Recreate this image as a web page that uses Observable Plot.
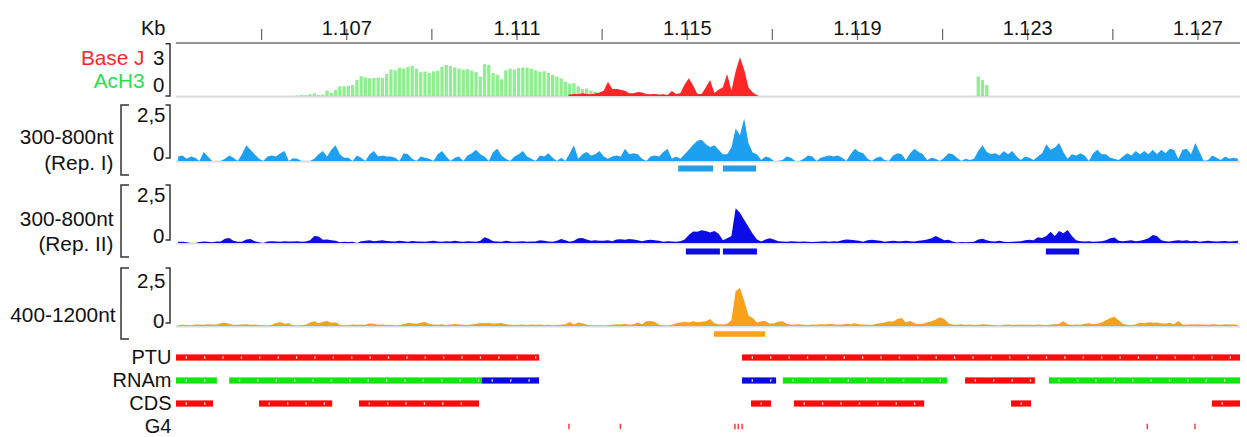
<!DOCTYPE html>
<html>
<head>
<meta charset="utf-8">
<script src="https://cdn.jsdelivr.net/npm/d3@7"></script>
<script src="https://cdn.jsdelivr.net/npm/@observablehq/plot@0.6"></script>
<style>
  html, body { margin: 0; padding: 0; background: #fff; }
  #tracks svg { display: block; }
</style>
</head>
<body>
<div id="tracks"></div>
<script>
// ---- Genomic window (kb) and ruler ----
const xDomain = [1103, 1128];
const axisTicksKb = [1105, 1107, 1109, 1111, 1113, 1115, 1117, 1119, 1121, 1123, 1125, 1127];
const labelledTicksKb = [1107, 1111, 1115, 1119, 1123, 1127];

// ---- Small-RNA coverage, one value per 0.1 kb bin from 1103 kb ----
const binKb = 0.1;
const coverageStartKb = 1103;
const repI = [
  0.2,0.25,0.1,0.2,0.15,0,0.4,0.2,0,0,
  0,0.1,0.25,0.15,0,0.3,0.7,0.5,0.3,0.1,
  0,0.2,0.25,0.2,0.35,0.45,0,0.12,0.1,0,
  0,0,0.1,0.3,0.45,0.2,0.5,0.7,0.3,0.15,
  0.15,0,0.25,0.15,0,0.3,0.45,0.2,0.25,0.2,
  0.2,0.15,0,0.35,0.3,0.1,0,0.2,0.15,0.1,
  0,0.3,0.45,0.2,0,0.15,0.2,0,0.25,0.35,
  0.5,0.3,0.2,0,0.4,0.55,0.25,0.1,0,0.2,
  0.3,0.45,0.2,0.1,0,0.25,0.2,0.35,0.15,0,
  0.15,0,0.35,0.7,0.1,0.3,0.4,0.25,0.3,0.45,
  0.2,0.1,0.2,0.25,0.2,0.55,0.3,0.35,0.3,0.1,
  0,0.2,0.25,0.2,0.4,0.55,0.1,0.2,0.1,0.3,
  0.5,0.72,0.9,0.95,0.75,0.62,0.7,0.5,0.3,0.3,
  0.6,1.45,1.15,1.9,0.8,0.38,0.3,0.05,0.2,0.15,
  0,0,0.05,0.2,0.15,0,0,0.1,0.25,0.2,
  0,0.15,0.2,0.25,0.2,0.25,0.15,0,0.3,0.55,
  0.4,0.35,0.1,0,0.15,0.2,0.05,0,0.25,0.35,
  0.3,0.05,0.35,0.55,0.4,0.3,0.05,0.15,0.1,0,
  0.15,0.35,0.3,0.15,0,0.1,0.05,0.1,0.45,0.7,
  0.4,0.3,0.35,0.25,0.45,0.3,0.45,0.2,0.05,0.2,
  0.15,0.05,0.2,0.35,0.75,0.5,0.6,0.8,0.4,0.1,
  0.3,0.25,0.35,0.25,0,0.35,0.5,0.3,0.3,0.15,
  0.1,0.05,0.2,0.35,0.25,0.45,0.3,0.45,0.3,0.5,
  0.3,0.5,0.35,0.55,0.5,0.1,0.5,0.55,0.3,0.8,
  0.4,0,0.05,0.25,0.15,0.05,0.2,0.1,0.15,0.1
];
const repII = [
  0.05,0.05,0.03,0,0,0.04,0.06,0.05,0.03,0.06,
  0.06,0.18,0.22,0.1,0.05,0.05,0.15,0.17,0.08,0.03,
  0,0.06,0.08,0.06,0.05,0.08,0.07,0.06,0.08,0.05,
  0.06,0.12,0.3,0.28,0.14,0.15,0.12,0.1,0.03,0.05,
  0.04,0.05,0,0.08,0.1,0.12,0.08,0.1,0.12,0.09,
  0.08,0.06,0.1,0.08,0.05,0.09,0.06,0.07,0.05,0.08,
  0.1,0.06,0.05,0.08,0.07,0.1,0.06,0.05,0.08,0.06,
  0.05,0.1,0.25,0.18,0.08,0.06,0.05,0.1,0.07,0.05,
  0.06,0.08,0.05,0.07,0.06,0.12,0.1,0.06,0.05,0.1,
  0.17,0.12,0.05,0.1,0.2,0.22,0.15,0.1,0.12,0.1,
  0.1,0.12,0.08,0.15,0.16,0.14,0.17,0.15,0.12,0.08,
  0.12,0.14,0.12,0.1,0.05,0.08,0.06,0.05,0.08,0.15,
  0.35,0.5,0.48,0.55,0.52,0.45,0.52,0.4,0.12,0.2,
  0.3,1.5,1.3,1.0,0.7,0.4,0.15,0.06,0.15,0.2,
  0.15,0.08,0.06,0.05,0.08,0.06,0.05,0.07,0.05,0.04,
  0.05,0.06,0.08,0.05,0.08,0.06,0.12,0.15,0.14,0.12,
  0.1,0.05,0.12,0.14,0.12,0.1,0.05,0.08,0.1,0.08,
  0.08,0.1,0.08,0.06,0.1,0.12,0.15,0.2,0.3,0.22,
  0.12,0.14,0.06,0.02,0.04,0.03,0.04,0.05,0.15,0.18,
  0.12,0.08,0.06,0.1,0.05,0.04,0.05,0.06,0.08,0.12,
  0.14,0.12,0.25,0.22,0.3,0.48,0.3,0.52,0.42,0.56,
  0.3,0.12,0.08,0.06,0.08,0.05,0.06,0.08,0.12,0.2,
  0.24,0.1,0.08,0.1,0.12,0.08,0.1,0.14,0.2,0.35,
  0.3,0.12,0.08,0.06,0.1,0.12,0.1,0.12,0.08,0.1,
  0.05,0.08,0.1,0.08,0.06,0.08,0.09,0.07,0.08,0.1
];
const nt400to1200 = [
  0.04,0.05,0.04,0.03,0.06,0.07,0.05,0.08,0.06,0.07,
  0.12,0.14,0.1,0.04,0.05,0.06,0.08,0.05,0.06,0.04,
  0.03,0.02,0.05,0.13,0.17,0.1,0.12,0.03,0.02,0.04,
  0.05,0.15,0.2,0.12,0.18,0.22,0.14,0.16,0.05,0.03,
  0.04,0.06,0.05,0.07,0.05,0.12,0.1,0.05,0.06,0.04,
  0.05,0.02,0.04,0.08,0.13,0.12,0.1,0.14,0.17,0.1,
  0.06,0.05,0.08,0.04,0.06,0.09,0.07,0.05,0.04,0.06,
  0.1,0.13,0.12,0.14,0.1,0.12,0.13,0.08,0.05,0.04,
  0.05,0.06,0.04,0.07,0.05,0.06,0.04,0.05,0.03,0.04,
  0.05,0.08,0.17,0.06,0.15,0.12,0.05,0.03,0.02,0.03,
  0.02,0.03,0.05,0.08,0.06,0.1,0.05,0.08,0.15,0.08,
  0.2,0.22,0.18,0.05,0.03,0.02,0.05,0.12,0.15,0.18,
  0.15,0.2,0.16,0.18,0.2,0.3,0.12,0.08,0.06,0.1,
  0.25,1.5,1.65,1.1,0.45,0.35,0.15,0.2,0.22,0.1,
  0.12,0.18,0.2,0.1,0.05,0.06,0.08,0.05,0.04,0.06,
  0.05,0.08,0.06,0.1,0.08,0.05,0.06,0.1,0.08,0.12,
  0.08,0.06,0.05,0.04,0.1,0.12,0.15,0.2,0.18,0.3,
  0.35,0.15,0.22,0.12,0.08,0.1,0.15,0.2,0.28,0.38,
  0.3,0.12,0.06,0.05,0.08,0.05,0.06,0.04,0.05,0.08,
  0.06,0.05,0.03,0.02,0.05,0.06,0.04,0.05,0.06,0.05,
  0.05,0.04,0.06,0.05,0.03,0.06,0.08,0.1,0.2,0.08,
  0.04,0.06,0.05,0.1,0.12,0.08,0.1,0.15,0.25,0.35,
  0.4,0.25,0.1,0.05,0.04,0.06,0.15,0.12,0.16,0.14,
  0.15,0.12,0.1,0.14,0.08,0.22,0.06,0.05,0.08,0.06,
  0.08,0.06,0.05,0.08,0.06,0.05,0.08,0.06,0.07,0.05
];

// ---- Chromatin marks (0.1 kb bins) ----
const acH3StartKb = 1105.8;
const acH3 = [
  0.03,0.05,0.04,0.1,0.15,0.06,0.08,0.3,0.18,0.35,
  0.55,0.55,0.58,0.62,0.9,1.12,1.05,1.0,1.02,1.05,
  1.02,1.25,1.5,1.45,1.6,1.55,1.65,1.7,1.55,1.35,
  1.38,1.3,1.4,1.42,1.65,1.75,1.7,1.62,1.55,1.5,
  1.52,1.42,1.35,1.1,1.8,1.75,1.3,1.2,0.95,1.45,
  1.55,1.5,1.58,1.62,1.6,1.55,1.45,1.38,1.4,1.3,
  1.2,1.1,1.0,0.8,0.7,0.72,0.55,0.4,0.42,0.3,
  0.25,0.08,0.05,0.1,0.06,0.02,0.04,0.06,0.08,0.1,
  0.07,0.03,0,0,0,0,0,0,0,0,
  0,0,0,0.04,0.08,0.12,0.15,0.1,0.05
];
const acH3IslandStartKb = 1121.8;
const acH3Island = [1.1, 0.9, 0.62];
const baseJStartKb = 1112.2;
const baseJ = [
  0.08,0.12,0.1,0.15,0.12,0.1,0.14,0.2,0.3,0.8,
  0.4,0.4,0.35,0.3,0.15,0.15,0.22,0.2,0.12,0.1,
  0.12,0.08,0.1,0.06,0.28,0.12,0.15,0.65,1.0,0.6,
  0.12,0.12,0.5,0.9,0.17,0.35,0.5,1.25,0.3,1.4,
  2.2,1.5,0.5,0.2,0.04
];

// ---- Called peaks (kb) ----
const peaksRepI = [[1114.80, 1115.62], [1115.85, 1116.63]];
const peaksRepII = [[1114.98, 1115.78], [1115.85, 1116.65], [1123.44, 1124.22]];
const peaks400to1200 = [[1115.64, 1116.84]];

// ---- Annotation features (kb) ----
const annotationTracks = ["PTU", "RNAm", "CDS", "G4"];
const ptu = [[1103.0, 1111.53, "red"], [1116.30, 1128.0, "red"]];
const rnam = [
  [1103.0, 1103.96, "green"], [1104.25, 1110.19, "green"], [1110.19, 1111.53, "blue"],
  [1116.30, 1117.10, "blue"], [1117.26, 1121.12, "green"], [1121.54, 1123.18, "red"],
  [1123.51, 1128.0, "green"]
];
const cds = [
  [1103.0, 1103.87, "red"], [1104.95, 1106.67, "red"], [1107.30, 1110.12, "red"],
  [1116.51, 1116.98, "red"], [1117.52, 1120.58, "red"], [1122.62, 1123.09, "red"],
  [1127.34, 1128.0, "red"]
];
const g4Sites = [1112.22, 1113.43, 1116.12, 1116.20, 1116.29, 1125.81, 1126.93];

// ---- Styling ----
const colors = {
  baseJ: "#ff1414", baseJLabel: "#ff2626", acH3: "#8def8d", acH3Label: "#2fdc4a",
  repI: "#1ea0f0", repII: "#0c0ce6", nt400: "#f9a11b", baseline: "#dcdcdc",
  axis: "#737373", bracket: "#333333",
  red: "#ff0a0a", green: "#0de80d", blue: "#0a0ae6", g4: "#ff3a3a"
};
const W = 1247, ML = 176, MR = 7, FS = 19.5, FS_TRACK = 20.8, FS_VALUE = 20.5;
const fontFamily = "'Liberation Sans', Arial, Helvetica, sans-serif";
const svgStyle = {background: "white", fontFamily, fontSize: FS + "px", color: "#111", overflow: "visible"};

const toRows = (startKb, values) => values.map((v, i) => ({pos: startKb + (i + 0.5) * binKb, v}));
const toBars = (startKb, values) => values
  .map((v, i) => ({x1: startKb + i * binKb, x2: startKb + (i + 1) * binKb, v}))
  .filter(d => d.v > 0);

// A "[" (arm > 0) or "]" (arm < 0) bracket, drawn in the plot's pixel space
function bracket(x, y1, y2, arm) {
  return () => d3.create("svg:path")
    .attr("d", `M${x + arm},${y1}H${x}V${y2}H${x + arm}`)
    .attr("fill", "none")
    .attr("stroke", colors.bracket)
    .attr("stroke-width", 1.5)
    .node();
}
const label = (text, opts) => Plot.text([text], {text: d => d, textAnchor: "end", fontSize: FS, fill: "#111", ...opts});

const container = document.getElementById("tracks");

// ---- Ruler ----
container.append(Plot.plot({
  width: W, height: 43, marginLeft: ML, marginRight: MR, marginTop: 29, marginBottom: 3,
  style: svgStyle,
  x: {domain: xDomain, axis: null},
  y: {domain: [0, 1], axis: null},
  marks: [
    Plot.ruleY([0], {stroke: colors.axis, strokeWidth: 1.6, dy: 2.5}),
    Plot.ruleX(axisTicksKb, {x: d => d, y1: 0, y2: 1, stroke: "#666", strokeWidth: 1.2}),
    Plot.text(labelledTicksKb, {x: d => d, text: d => (d / 1000).toFixed(3), frameAnchor: "top", dy: -9, fontSize: 20, fill: "#111"}),
    label("Kb", {frameAnchor: "top-left", dx: -11, dy: -9, fontSize: 20})
  ]
}));

// ---- Base J / AcH3 ----
const baseJRows = [{pos: baseJStartKb, v: 0}, ...toRows(baseJStartKb, baseJ),
  {pos: baseJStartKb + baseJ.length * binKb, v: 0}];
container.append(Plot.plot({
  width: W, height: 57, marginLeft: ML, marginRight: MR, marginTop: 0, marginBottom: 4,
  style: svgStyle,
  x: {domain: xDomain, axis: null},
  y: {domain: [0, 3], axis: null},
  marks: [
    Plot.ruleY([0], {stroke: colors.baseline, strokeWidth: 2}),
    Plot.rectY(toBars(acH3StartKb, acH3), {x1: "x1", x2: "x2", y: "v", fill: colors.acH3, insetLeft: 0.5, insetRight: 0.5}),
    Plot.rectY(toBars(acH3IslandStartKb, acH3Island), {x1: "x1", x2: "x2", y: "v", fill: colors.acH3, insetLeft: 0.5, insetRight: 0.5}),
    Plot.areaY(baseJRows, {x: "pos", y: "v", fill: colors.baseJ, fillOpacity: 0.92}),
    label("Base J", {frameAnchor: "top-left", dx: -32, dy: 7, fill: colors.baseJLabel, fontSize: FS_TRACK}),
    label("AcH3", {frameAnchor: "bottom-left", dx: -32, dy: -9, fill: colors.acH3Label, fontSize: FS_TRACK}),
    label("3", {frameAnchor: "top-left", dx: -12, dy: 7, fontSize: FS_VALUE}),
    label("0", {frameAnchor: "bottom-left", dx: -12, dy: -5, fontSize: FS_VALUE}),
    bracket(170, 0.75, 53, -4.5)
  ]
}));

// ---- Coverage tracks with their peaks ----
function coverageTrack({values, peaks, color, height, marginTop, marginBottom, lines, labelDx, peakDy, peakWidth, topDy, zeroDy, innerBottom}) {
  const frameBottom = height - marginBottom;
  const marks = [
    Plot.ruleY([0], {stroke: colors.baseline, strokeWidth: 2}),
    Plot.areaY(toRows(coverageStartKb, values), {x: "pos", y: "v", fill: color}),
    Plot.ruleY(peaks, {x1: d => d[0], x2: d => d[1], y: () => 0, dy: peakDy, stroke: color, strokeWidth: peakWidth}),
    Plot.text(["2,5"], {text: d => d, y: () => 2.5, frameAnchor: "left", dx: -11, dy: topDy, textAnchor: "end", fontSize: FS_VALUE, fill: "#111"}),
    Plot.text(["0"], {text: d => d, y: () => 0, frameAnchor: "left", dx: -12, dy: zeroDy, textAnchor: "end", fontSize: FS_VALUE, fill: "#111"}),
    bracket(121, marginTop, frameBottom + 14 + (innerBottom ?? 0), 8),
    bracket(170, marginTop, frameBottom - 3, -4.5)
  ];
  for (const [text, dy] of lines) marks.push(label(text, {frameAnchor: "top-left", dx: labelDx, dy, fontSize: FS_TRACK}));
  return Plot.plot({
    width: W, height, marginLeft: ML, marginRight: MR, marginTop, marginBottom,
    style: svgStyle,
    x: {domain: xDomain, axis: null},
    y: {domain: [0, 2.5], axis: null},
    marks
  });
}

container.append(coverageTrack({
  values: repI, peaks: peaksRepI, color: colors.repI,
  height: 82, marginTop: 5, marginBottom: 21,
  lines: [["300-800nt", 24], ["(Rep. I)", 50]], labelDx: -63,
  peakDy: 7, peakWidth: 6, topDy: 10, zeroDy: -7
}));
container.append(coverageTrack({
  values: repII, peaks: peaksRepII, color: colors.repII,
  height: 83, marginTop: 3, marginBottom: 22,
  lines: [["300-800nt", 26], ["(Rep. II)", 51]], labelDx: -63,
  peakDy: 8, peakWidth: 6, topDy: 10, zeroDy: -7
}));
container.append(coverageTrack({
  values: nt400to1200, peaks: peaks400to1200, color: colors.nt400,
  height: 78, marginTop: 3, marginBottom: 17,
  lines: [["400-1200nt", 39]], labelDx: -61,
  peakDy: 7.5, peakWidth: 5.5, topDy: 13, zeroDy: -5, innerBottom: -1
}));

// ---- Annotation tracks ----
const features = [
  ...ptu.map(([start, end, c]) => ({track: "PTU", start, end, color: colors[c]})),
  ...rnam.map(([start, end, c]) => ({track: "RNAm", start, end, color: colors[c]})),
  ...cds.map(([start, end, c]) => ({track: "CDS", start, end, color: colors[c]}))
];
// strand chevrons along each feature
const chevronStepKb = 0.432;
const chevrons = features.flatMap(f =>
  d3.range(f.start + 0.23, f.end - 0.08, chevronStepKb).map(pos => ({track: f.track, pos})));

container.append(Plot.plot({
  width: W, height: 94, marginLeft: ML, marginRight: MR, marginTop: 0, marginBottom: 0,
  style: {...svgStyle, fontSize: "20px"},
  x: {domain: xDomain, axis: null},
  y: {type: "band", domain: annotationTracks, range: [2.2, 96.8], padding: 0, label: null, tickSize: 0, tickPadding: 5},
  marks: [
    Plot.barX(features, {x1: "start", x2: "end", y: "track", fill: "color", insetTop: 8.4, insetBottom: 8.4}),
    Plot.tickX(chevrons, {x: "pos", y: "track", stroke: "white", strokeOpacity: 0.85, strokeWidth: 1.3, insetTop: 10.3, insetBottom: 10.3}),
    Plot.tickX(g4Sites, {x: d => d, y: () => "G4", stroke: colors.g4, strokeWidth: 1.5, insetTop: 8.8, insetBottom: 8.8})
  ]
}));
</script>
</body>
</html>
